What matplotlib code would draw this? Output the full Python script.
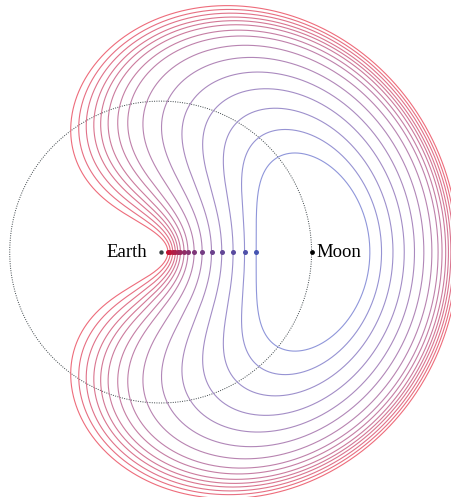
import numpy as np
import matplotlib
matplotlib.use("Agg")
import matplotlib.pyplot as plt
from matplotlib.colors import to_rgb

# Earth-Moon rotating frame, Earth at 0, Moon at 1 (unit = Earth-Moon distance)
MU = 0.01215

# x-axis crossings (Earth side, the dots) of each retrograde orbit
start_x = [0.048, 0.064, 0.080, 0.097, 0.113, 0.131, 0.155, 0.181, 0.222,
           0.275, 0.337, 0.405, 0.480, 0.556, 0.633]

bodies = ["Earth", "Moon"]
body_x = [0.0, 1.0]

red_line, blue_line = to_rgb("#ee6c7b"), to_rgb("#8f96da")
red_dot, blue_dot = to_rgb("#c8102e"), to_rgb("#4655b2")


def deriv(s):
    x, y, vx, vy = s
    dx1 = x + MU
    dx2 = x - 1 + MU
    r1 = np.hypot(dx1, y)
    r2 = np.hypot(dx2, y)
    c1 = (1 - MU) / r1**3
    c2 = MU / r2**3
    ax = 2 * vy + x - c1 * dx1 - c2 * dx2
    ay = -2 * vx + y - c1 * y - c2 * y
    g1, g2 = r1**1.5, r2**1.5
    g = g1 * g2 / (g1 + g2)  # time regularisation near the bodies
    return g * np.array([vx, vy, ax, ay])


def integrate(x0, v, dtau=0.006, nmax=12000, keep=False):
    x0 = np.asarray(x0, float)
    v = np.asarray(v, float)
    s = np.vstack([x0 - MU, np.zeros_like(x0), np.zeros_like(x0), v])
    n = s.shape[1]
    active = np.ones(n, bool)
    vx_c = np.full(n, np.nan)
    x_c = np.full(n, np.nan)
    end = np.full(n, -1)
    path = [s[:2].copy()]
    for i in range(nmax):
        k1 = deriv(s)
        k2 = deriv(s + 0.5 * dtau * k1)
        k3 = deriv(s + 0.5 * dtau * k2)
        k4 = deriv(s + dtau * k3)
        new = s + dtau / 6 * (k1 + 2 * k2 + 2 * k3 + k4)
        hit = active & (s[1] > 0) & (new[1] <= 0)
        if hit.any():
            f = s[1, hit] / (s[1, hit] - new[1, hit])
            vx_c[hit] = s[2, hit] + f * (new[2, hit] - s[2, hit])
            x_c[hit] = s[0, hit] + f * (new[0, hit] - s[0, hit]) + MU
            end[hit] = i + 1
            active &= ~hit
        r1 = np.hypot(new[0] + MU, new[1])
        bad = active & ((r1 < 0.01) | (r1 > 4) | ~np.isfinite(new).all(0))
        active &= ~bad
        new[:, ~active] = s[:, ~active]
        s = new
        if keep:
            path.append(s[:2].copy())
        if not active.any():
            break
    return vx_c, x_c, np.array(path), end


def bracket(facs, fv, xc):
    best = None
    for j in range(facs.size - 1):
        ok = np.isfinite(fv[j]) and np.isfinite(fv[j + 1])
        if ok and xc[j] > 0.9 and xc[j + 1] > 0.9 and fv[j] * fv[j + 1] < 0:
            d = abs(facs[j] - 1)
            if best is None or d < best[0]:
                best = (d, j)
    return None if best is None else best[1]


x0s = np.array(start_x)
v0 = np.sqrt((1 - MU) * (2 / x0s - 1)) - x0s
a = np.zeros_like(x0s)
b = np.zeros_like(x0s)
fa = np.zeros_like(x0s)
fb = np.zeros_like(x0s)

todo = np.arange(x0s.size)
for facs in (np.linspace(0.5, 1.6, 45), np.linspace(0.97, 1.05, 81)):
    if todo.size == 0:
        break
    fv, xc, _, _ = integrate(np.repeat(x0s[todo], facs.size),
                             (v0[todo, None] * facs).ravel())
    fv = fv.reshape(todo.size, facs.size)
    xc = xc.reshape(todo.size, facs.size)
    left = []
    for k, i in enumerate(todo):
        j = bracket(facs, fv[k], xc[k])
        if j is None:
            left.append(i)
            continue
        a[i], b[i] = v0[i] * facs[j], v0[i] * facs[j + 1]
        fa[i], fb[i] = fv[k, j], fv[k, j + 1]
    todo = np.array(left, int)

keep_idx = np.array([i for i in range(x0s.size) if i not in set(todo)], int)

# Illinois refinement of the launch speed (perpendicular far-side crossing)
for _ in range(10):
    c = b - fb * (b - a) / (fb - fa)
    fc, _, _, _ = integrate(x0s, c)
    swap = fc * fb < 0
    a = np.where(swap, b, a)
    fa = np.where(swap, fb, fa / 2)
    b, fb = c, fc

_, xc, path, end = integrate(x0s, b, keep=True)

fig = plt.figure(figsize=(4.52, 4.97), dpi=100)
ax = fig.add_axes([0, 0, 1, 1])
ax.set_xlim(-1.064, 1.930)
ax.set_ylim(-1.623, 1.670)
ax.set_aspect("equal")
ax.axis("off")

t = np.linspace(0, 2 * np.pi, 400)
ax.plot(np.cos(t), np.sin(t), color="#3c4448", lw=0.7, ls=(0, (1, 1.4)), zorder=1)

n = x0s.size
for i in keep_idx:
    k = end[i]
    px = np.append(path[:k, 0, i] + MU, xc[i])
    py = np.append(path[:k, 1, i], 0.0)
    X = np.concatenate([px, px[::-1]])
    Y = np.concatenate([py, -py[::-1]])
    w = i / (n - 1)
    lc = tuple((1 - w) * np.array(red_line) + w * np.array(blue_line))
    dc = tuple((1 - w) * np.array(red_dot) + w * np.array(blue_dot))
    ax.plot(X, Y, color=lc, lw=0.8, zorder=2)
    ax.scatter([x0s[i]], [0], s=13, color=dc, lw=0, zorder=4)

ax.scatter([body_x[0]], [0], s=10, color="#3a4044", lw=0, zorder=5)
ax.scatter([body_x[1]], [0], s=12, color="black", lw=0, zorder=5)
ax.text(body_x[0] - 0.088, -0.031, bodies[0], ha="right", va="baseline",
        fontsize=13.5, family="Liberation Serif")
ax.text(body_x[1] + 0.03, -0.031, bodies[1], ha="left", va="baseline",
        fontsize=13.5, family="Liberation Serif")

fig.savefig("out.png", dpi=100)
